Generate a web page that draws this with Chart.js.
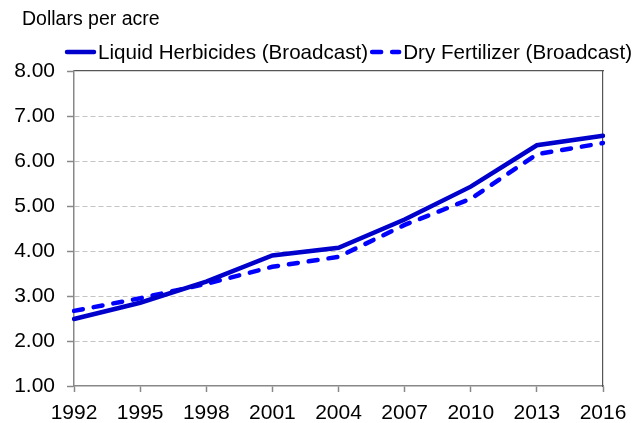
<!DOCTYPE html>
<html>
<head>
<meta charset="utf-8">
<script src="https://cdn.jsdelivr.net/npm/chart.js@4.4.1/dist/chart.umd.min.js"></script>
<style>
  html, body { margin: 0; padding: 0; background: #fff; }
  #wrap { width: 634px; height: 423px; }
</style>
</head>
<body>
<div id="wrap"><canvas id="chart" width="634" height="423"></canvas></div>
<script>
// ---- data ----
const years = ["1992", "1995", "1998", "2001", "2004", "2007", "2010", "2013", "2016"];
const liquidHerbicides = [2.49, 2.85, 3.32, 3.90, 4.07, 4.70, 5.43, 6.35, 6.56];
const dryFertilizer = [2.67, 2.95, 3.27, 3.65, 3.87, 4.58, 5.16, 6.15, 6.40];
const yTicks = [1, 2, 3, 4, 5, 6, 7, 8];

const FONT = "'Liberation Sans', Arial, sans-serif";

// title + legend drawn on top (legend needs dashed sample lines)
const headerPlugin = {
  id: "header",
  afterDraw(chart) {
    const ctx = chart.ctx;
    ctx.save();
    ctx.fillStyle = "#000";
    ctx.font = "19.5px " + FONT;
    ctx.textBaseline = "middle";
    ctx.textAlign = "left";
    ctx.fillText("Dollars per acre", 22, 20);

    ctx.font = "20.6px " + FONT;
    const sample = 31, gap = 2;
    const items = chart.data.datasets.map(ds => ({
      ds, w: sample + gap + ctx.measureText(ds.label).width + 2
    }));
    const total = items.reduce((s, it) => s + it.w, 0);
    let x = 634 - total;
    const y = 52;
    items.forEach(it => {
      ctx.beginPath();
      ctx.strokeStyle = it.ds.borderColor;
      ctx.lineWidth = it.ds.borderWidth;
      ctx.lineCap = it.ds.borderCapStyle || "butt";
      ctx.setLineDash(it.ds.borderDash || []);
      ctx.moveTo(x + 2, y);
      ctx.lineTo(x + sample - 2, y);
      ctx.stroke();
      ctx.setLineDash([]);
      ctx.fillText(it.ds.label, x + sample + gap, y + 1);
      x += it.w;
    });
    ctx.restore();
  }
};

const ctx = document.getElementById("chart").getContext("2d");
new Chart(ctx, {
  type: "line",
  data: {
    labels: years,
    datasets: [
      { label: "Liquid Herbicides (Broadcast)", data: liquidHerbicides, borderColor: "#0000CC", borderWidth: 4.5, borderCapStyle: "round", pointRadius: 0, tension: 0, fill: false },
      { label: "Dry Fertilizer (Broadcast)", data: dryFertilizer, borderColor: "#0000FF", borderWidth: 4.5, borderDash: [9, 11], borderCapStyle: "round", pointRadius: 0, tension: 0, fill: false }
    ]
  },
  options: {
    responsive: false,
    animation: false,
    layout: { padding: { top: 71, right: 31, left: 0, bottom: 0 } },
    plugins: { legend: { display: false }, title: { display: false }, tooltip: { enabled: false } },
    scales: {
      x: {
        offset: false,
        grid: { drawOnChartArea: false, tickLength: 6, tickColor: "#888", tickWidth: 1.5 },
        border: { color: "#888", width: 1.5 },
        ticks: { color: "#000", font: { family: FONT, size: 21 }, padding: 9, maxRotation: 0, autoSkip: false },
        afterFit(scale) { scale.height = 37; scale.paddingRight = 0; }
      },
      x2: {
        position: "top",
        grid: { display: false, drawTicks: false },
        border: { color: "#555", width: 1.2 },
        ticks: { display: false },
        afterFit(scale) { scale.height = 0; }
      },
      y: {
        min: 1, max: 8,
        afterBuildTicks(scale) { scale.ticks = yTicks.map(v => ({ value: v })); },
        grid: {
          color: c => (c.tick && (c.tick.value === 8 || c.tick.value === 1)) ? "rgba(0,0,0,0)" : "#C4C4C4",
          lineWidth: 1,
          tickLength: 7, tickColor: "#888", tickWidth: 1.5
        },
        border: { color: "#888", width: 1.5, dash: [5, 3] },
        ticks: { color: "#000", font: { family: FONT, size: 21 }, padding: 12, callback: v => Number(v).toFixed(2) },
        afterFit(scale) { scale.width = 74; }
      },
      y2: {
        position: "right",
        grid: { display: false, drawTicks: false },
        border: { color: "#555", width: 1.2 },
        ticks: { display: false },
        afterFit(scale) { scale.width = 0; }
      }
    }
  },
  plugins: [headerPlugin]
});
</script>
</body>
</html>
